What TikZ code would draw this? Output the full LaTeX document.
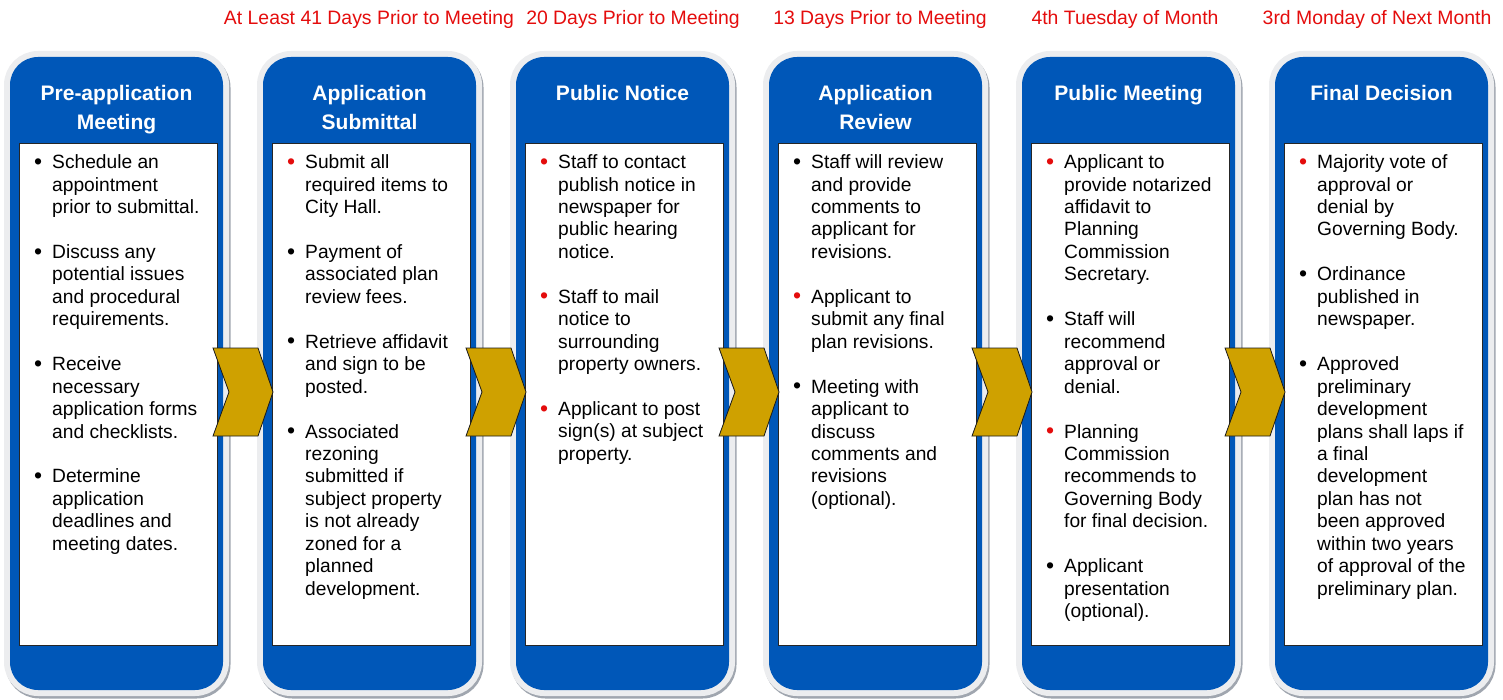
\documentclass[tikz,border=0pt]{standalone}
\usepackage{fontspec}
\setmainfont{Liberation Sans}
\usepackage{xcolor}
\usepackage{tikz}
\usetikzlibrary{calc, shadows, positioning}
\definecolor{pfBlue}{RGB}{0,87,184}
\definecolor{pfGold}{RGB}{207,161,0}
\definecolor{pfRed}{RGB}{228,12,12}
\definecolor{pfRing}{RGB}{236,237,239}
\definecolor{pfShade}{RGB}{160,166,175}

% bullets hanging left of the text
\newcommand{\ptmark}[1]{\llap{\raisebox{-0.6pt}{\textcolor{#1}{\fontsize{23}{22}\selectfont\textbullet}}\hspace{10pt}}}
\newcommand{\redpt}{\ptmark{pfRed}}
\newcommand{\blkpt}{\ptmark{black}}

\begin{document}
\begin{tikzpicture}[
    x=1pt, y=-1pt,
    stage/.style={fill=pfBlue, rounded corners=28pt, minimum width=213pt,
                minimum height=633pt, inner sep=0pt,
                general shadow={draw=pfShade, line width=12pt,
                    shadow xshift=1.5pt, shadow yshift=-2.5pt},
                preaction={draw=pfRing, line width=12pt}},
    panel/.style={fill=white, draw=black!85, line width=0.9pt,
                minimum width=198pt, minimum height=502pt, inner sep=0pt},
    heading/.style={text=white, font={\fontsize{21}{29}\selectfont\bfseries},
                align=center, anchor=north, inner sep=0pt},
    steps/.style={font={\fontsize{19.2}{22.45}\selectfont}, align=left,
                anchor=north west, inner sep=0pt},
    when/.style={text=pfRed, font={\fontsize{19.4}{22}\selectfont},
                anchor=base, inner sep=0pt},
    chev/.style={fill=pfGold, draw=black!90, line width=0.8pt, line join=miter}
]
\useasboundingbox (0,0) rectangle (1503,700);

% Timing above each stage
\node[when] (h2) at (369,25) {At Least 41 Days Prior to Meeting};
\node[when] (h3) at (633,25) {20 Days Prior to Meeting};
\node[when] (h4) at (880,25) {13 Days Prior to Meeting};
\node[when] (h5) at (1125,25) {4th Tuesday of Month};
\node[when] (h6) at (1377,25) {3rd Monday of Next Month};

% Blue stage columns
\node[stage] (c1) at (116.5,373.5) {};
\node[stage] (c2) at (369.5,373.5) {};
\node[stage] (c3) at (622.5,373.5) {};
\node[stage] (c4) at (875.5,373.5) {};
\node[stage] (c5) at (1128.5,373.5) {};
\node[stage] (c6) at (1381.5,373.5) {};

% White text panels
\node[panel] (b1) at (118,394) {};
\node[panel] (b2) at (371,394) {};
\node[panel] (b3) at (624,394) {};
\node[panel] (b4) at (877,394) {};
\node[panel] (b5) at (1130,394) {};
\node[panel] (b6) at (1383,394) {};

% Stage titles
\node[heading] (t1) at (116.5,85) {Pre-application\\Meeting};
\node[heading] (t2) at (369.5,85) {Application\\Submittal};
\node[heading] (t3) at (622.5,85) {Public Notice};
\node[heading] (t4) at (875.5,85) {Application\\Review};
\node[heading] (t5) at (1128.5,85) {Public Meeting};
\node[heading] (t6) at (1381.5,85) {Final Decision};

% Stage details
\node[steps] (p1) at (52,154.5) {%
  \blkpt Schedule an\\appointment\\prior to submittal.\\[22.45pt]
  \blkpt Discuss any\\potential issues\\and procedural\\requirements.\\[22.45pt]
  \blkpt Receive\\necessary\\application forms\\and checklists.\\[22.45pt]
  \blkpt Determine\\application\\deadlines and\\meeting dates.};
\node[steps] (p2) at (305,154.5) {%
  \redpt Submit all\\required items to\\City Hall.\\[22.45pt]
  \blkpt Payment of\\associated plan\\review fees.\\[22.45pt]
  \blkpt Retrieve affidavit\\and sign to be\\posted.\\[22.45pt]
  \blkpt Associated\\rezoning\\submitted if\\subject property\\is not already\\zoned for a\\planned\\development.};
\node[steps] (p3) at (558,154.5) {%
  \redpt Staff to contact\\publish notice in\\newspaper for\\public hearing\\notice.\\[22.45pt]
  \redpt Staff to mail\\notice to\\surrounding\\property owners.\\[22.45pt]
  \redpt Applicant to post\\sign(s) at subject\\property.};
\node[steps] (p4) at (811,154.5) {%
  \blkpt Staff will review\\and provide\\comments to\\applicant for\\revisions.\\[22.45pt]
  \redpt Applicant to\\submit any final\\plan revisions.\\[22.45pt]
  \blkpt Meeting with\\applicant to\\discuss\\comments and\\revisions\\(optional).};
\node[steps] (p5) at (1064,154.5) {%
  \redpt Applicant to\\provide notarized\\affidavit to\\Planning\\Commission\\Secretary.\\[22.45pt]
  \blkpt Staff will\\recommend\\approval or\\denial.\\[22.45pt]
  \redpt Planning\\Commission\\recommends to\\Governing Body\\for final decision.\\[22.45pt]
  \blkpt Applicant\\presentation\\(optional).};
\node[steps] (p6) at (1317,154.5) {%
  \redpt Majority vote of\\approval or\\denial by\\Governing Body.\\[22.45pt]
  \blkpt Ordinance\\published in\\newspaper.\\[22.45pt]
  \blkpt Approved\\preliminary\\development\\plans shall laps if\\a final\\development\\plan has not\\been approved\\within two years\\of approval of the\\preliminary plan.};

% Gold chevrons between neighbouring stages
\foreach \i [evaluate=\i as \j using int(\i+1)] in {1,...,5} {
  \coordinate (a\i) at ($(c\i.east)!0.5!(c\j.west)+(0,18.5)$);
  \draw[chev] (a\i) ++(-30,-44) -- ++(45,0) -- ++(15,44) -- ++(-15,44)
      -- ++(-45,0) -- ++(16,-44) -- cycle;
}

\end{tikzpicture}
\end{document}
